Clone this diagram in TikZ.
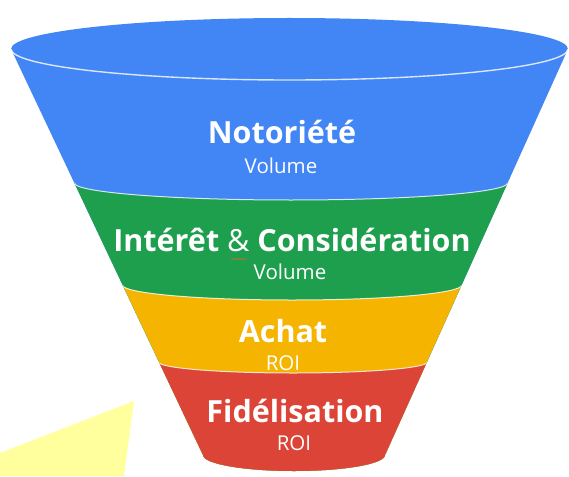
\documentclass[tikz,border=0pt]{standalone}
\usepackage{fontspec}
\setmainfont{Open Sans}
\usepackage{tikz}
\usetikzlibrary{decorations.pathmorphing}

\definecolor{gblue}{HTML}{4285F4}
\definecolor{ggreen}{HTML}{1E9F4E}
\definecolor{gyellow}{HTML}{F4B400}
\definecolor{gred}{HTML}{DB4437}
\definecolor{marker}{HTML}{FFFF9E}
\definecolor{squiggle}{HTML}{9A7A3A}

\begin{document}
\begin{tikzpicture}[
  x=1pt, y=-1pt,
  every node/.style={text=white, inner sep=0pt},
  stage/.style={font=\bfseries\fontsize{30.5}{32}\selectfont, anchor=base},
  metric/.style={font=\fontsize{20.5}{22}\selectfont, anchor=base},
  rim/.style={white, opacity=0.8, line width=1pt},
]
\fill[white] (0,0) rectangle (569,476);
\useasboundingbox (0,0) rectangle (569,476);

% highlighter patch, bottom left
\fill[marker] (0,453) -- (134,401) -- (124,476) -- (0,476) -- cycle;

% funnel body
\begin{scope}
  \clip (11,49) arc[start angle=180, end angle=360, x radius=278.5, y radius=31]
    -- (385,455) arc[start angle=0, end angle=180, x radius=91, y radius=16] -- cycle;
  \fill[gblue] (0,0) rectangle (569,476);
  \foreach \y/\xl/\rx/\ry/\col in {183/74.5/216.5/17/ggreen,
                                   285/122.4/169.7/15/gyellow,
                                   362/158.6/134.35/11/gred} {
    \fill[\col] (0,\y) -- (\xl,\y)
      arc[start angle=180, end angle=0, x radius=\rx, y radius=\ry]
      -- (569,\y) -- (569,476) -- (0,476) -- cycle;
  }
  \foreach \y/\xl/\rx/\ry in {183/74.5/216.5/17, 285/122.4/169.7/15, 362/158.6/134.35/11}
    \draw[rim] (\xl,\y) arc[start angle=180, end angle=0, x radius=\rx, y radius=\ry];
\end{scope}
% front rim of the opening
\draw[rim, line width=1.4pt] (11,49) arc[start angle=180, end angle=0, x radius=278.5, y radius=31];

% stages
\node[stage] (notoriete) at (282,143) {Notoriété};
\node[metric] (vol1) at (281,173) {Volume};
\node[stage] (interet) at (292,251) {Intérêt {\mdseries\&} Considération};
\node[metric] (vol2) at (290,279) {Volume};
\node[stage] (achat) at (283,342) {Achat};
\node[metric] (roi1) at (283,370) {ROI};
\node[stage] (fidel) at (295,422) {Fidélisation};
\node[metric] (roi2) at (294,450) {ROI};

% spell-check mark under the ampersand
\draw[squiggle, line width=0.7pt, decorate,
  decoration={snake, amplitude=0.8pt, segment length=2.5pt}] (231,259) -- (247,259);
\end{tikzpicture}
\end{document}
